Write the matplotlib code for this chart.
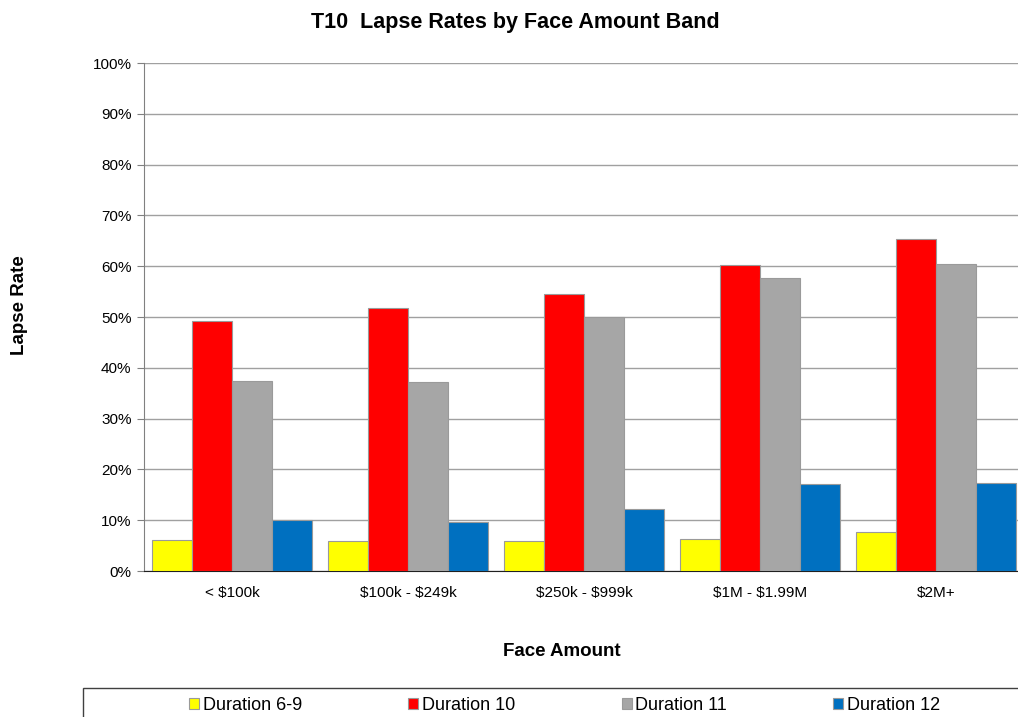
import numpy as np
import matplotlib
matplotlib.use('Agg')
import matplotlib.pyplot as plt
from matplotlib.patches import Rectangle
from matplotlib.ticker import PercentFormatter

plt.rcParams['font.family'] = ['Liberation Sans', 'DejaVu Sans']
plt.rcParams['text.parse_math'] = False  # keep the $ signs literal

# Data
bands = ['< $100k', '$100k - $249k', '$250k - $999k', '$1M - $1.99M', '$2M+']
dur_6_9 = [6.2, 6.0, 6.0, 6.4, 7.7]
dur_10 = [49.3, 51.8, 54.5, 60.3, 65.4]
dur_11 = [37.4, 37.3, 50.0, 57.6, 60.5]
dur_12 = [10.0, 9.7, 12.3, 17.2, 17.3]

series = [('Duration 6-9', dur_6_9, '#ffff00'),
          ('Duration 10', dur_10, '#ff0000'),
          ('Duration 11', dur_11, '#a6a6a6'),
          ('Duration 12', dur_12, '#0070c0')]

fig = plt.figure(figsize=(10.18, 7.17), dpi=100)
ax = fig.add_axes([0.1415, 0.2036, 0.8644, 0.7085])

x = np.arange(len(bands))
width = 0.228
for i, (name, vals, color) in enumerate(series):
    ax.bar(x + (i - 1.5) * width, vals, width, color=color, label=name,
           edgecolor='#9a9a9a', linewidth=0.8, zorder=3)

ax.set_xlim(-0.5, len(bands) - 0.5)
ax.set_ylim(0, 100)
ax.set_yticks(np.arange(0, 101, 10))
ax.yaxis.set_major_formatter(PercentFormatter(decimals=0))
ax.set_xticks(x)
ax.set_xticklabels(bands, fontsize=11)
ax.tick_params(axis='x', length=0, pad=11)
ax.tick_params(axis='y', labelsize=11, length=5, color='#808080', pad=4)

ax.grid(axis='y', color='#a0a0a0', linewidth=1, zorder=0)
for s in ['top', 'right']:
    ax.spines[s].set_visible(False)
ax.spines['left'].set_color('#808080')
ax.spines['bottom'].set_color('#202020')

fig.text(0.506, 0.968, 'T10  Lapse Rates by Face Amount Band', ha='center', va='center',
         fontsize=15.5, fontweight='bold')
fig.text(0.019, 0.574, 'Lapse Rate', rotation=90, ha='center', va='center',
         fontsize=13.5, fontweight='bold')
fig.text(0.552, 0.091, 'Face Amount', ha='center', va='center',
         fontsize=13.5, fontweight='bold')

# legend box running off the bottom right edge
fig.patches.append(Rectangle((83 / 1018, -0.01), 0.95, (717 - 688) / 717 + 0.01,
                             transform=fig.transFigure, fill=False,
                             edgecolor='#404040', linewidth=1))
fig.legend(loc='center left', bbox_to_anchor=(180 / 1018, 0.016), ncol=4,
           frameon=False, fontsize=13, handlelength=0.55, handleheight=0.55,
           handletextpad=0.2, columnspacing=5.9, borderpad=0)

fig.savefig('out.png', dpi=100)
